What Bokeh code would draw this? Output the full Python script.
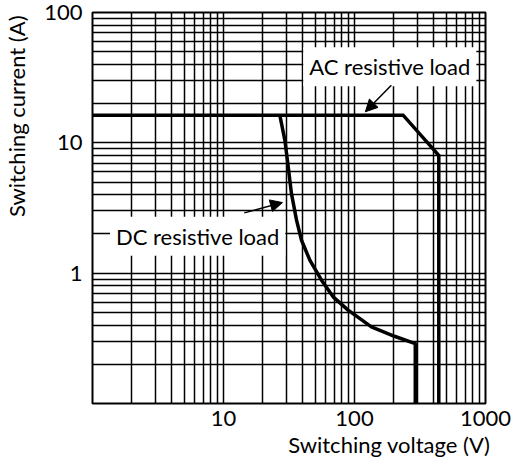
from bokeh.plotting import figure
from bokeh.models import (Range1d, FixedTicker, Label, Arrow, NormalHead, Title,
                          NumeralTickFormatter, LogAxis)
from bokeh.embed import file_html
from bokeh.resources import INLINE

# ---- data ----
ac_voltage = [1, 235, 440, 440]
ac_current = [16.3, 16.3, 8.0, 0.1]

dc_voltage = [26.9, 29.4, 31.2, 33.0, 36.1, 39.4, 45.6, 56, 68.7, 89.4, 134.6, 202, 291, 291]
dc_current = [16.3, 10.5, 6.54, 4.09, 2.55, 1.79, 1.26, 0.883, 0.658, 0.52, 0.387, 0.328, 0.288, 0.1]

x_tick_values = [10, 100, 1000]
y_tick_values = [1, 10, 100]
x_decades = [1, 10, 100]
y_decades = [0.1, 1, 10]

ac_label_text = "AC resistive load"
dc_label_text = "DC resistive load"
x_title = "Switching voltage (V)"
y_title = "Switching current (A)"

FONT = "Lato"
FSIZE = "22px"

p = figure(width=519, height=466, x_axis_type="log", y_axis_type="log",
           x_range=Range1d(1, 1000), y_range=Range1d(0.1, 100),
           output_backend="svg", toolbar_location=None,
           min_border_left=91, min_border_right=34, min_border_top=12, min_border_bottom=63)

p.background_fill_color = "white"
p.border_fill_color = "white"
p.outline_line_color = "black"
p.outline_line_width = 2

# grid lines at every 1..9 of each decade
x_grid = [d * k for d in x_decades for k in range(1, 10)] + [1000]
y_grid = [d * k for d in y_decades for k in range(1, 10)] + [100]
p.xgrid.ticker = FixedTicker(ticks=x_grid)
p.ygrid.ticker = FixedTicker(ticks=y_grid)
for g in (p.xgrid, p.ygrid):
    g.grid_line_color = "black"
    g.grid_line_width = 1.5
    g.grid_line_alpha = 1.0

for ax, ticks in ((p.xaxis, x_tick_values), (p.yaxis, y_tick_values)):
    ax.ticker = FixedTicker(ticks=ticks)
    ax.formatter = NumeralTickFormatter(format="0")
    ax.major_tick_line_color = None
    ax.minor_tick_line_color = None
    ax.major_tick_out = 0
    ax.major_tick_in = 0
    ax.minor_tick_out = 0
    ax.minor_tick_in = 0
    ax.axis_line_color = None
    ax.major_label_text_font = FONT
    ax.major_label_text_font_size = FSIZE
    ax.major_label_text_color = "black"

p.xaxis.major_label_standoff = 7
p.yaxis.major_label_standoff = 10
p.yaxis.major_label_orientation = "horizontal"

# curves
p.line(ac_voltage, ac_current, line_color="black", line_width=3.5, line_join="miter")
p.line(dc_voltage, dc_current, line_color="black", line_width=3.5, line_join="round")

# labels with white boxes
p.add_layout(Label(x=186, y=38.3, text=ac_label_text, text_align="center", text_baseline="middle",
                   text_font=FONT, text_font_size=FSIZE, text_color="black",
                   background_fill_color="white", background_fill_alpha=1.0, padding=6))
p.add_layout(Label(x=6.35, y=1.92, text=dc_label_text, text_align="center", text_baseline="middle",
                   text_font=FONT, text_font_size=FSIZE, text_color="black",
                   background_fill_color="white", background_fill_alpha=1.0, padding=6))

# arrows
p.add_layout(Arrow(end=NormalHead(size=12, fill_color="black", line_color="black"),
                   x_start=191, y_start=27.7, x_end=121, y_end=17.3,
                   line_color="black", line_width=1.5))
p.add_layout(Arrow(end=NormalHead(size=12, fill_color="black", line_color="black"),
                   x_start=14.4, y_start=2.9, x_end=28.2, y_end=3.48,
                   line_color="black", line_width=1.5))

# x axis title, right-aligned under the frame
p.add_layout(Title(text=x_title, align="right", text_font=FONT, text_font_size=FSIZE,
                   text_font_style="normal", text_color="black", standoff=0, offset=-5), "below")

# invisible spacer axis so that the y title sits further left
spacer = LogAxis(ticker=FixedTicker(ticks=[1]), axis_line_color=None,
                 major_tick_line_color=None, minor_tick_line_color=None,
                 major_tick_out=12, major_tick_in=0, minor_tick_out=0, minor_tick_in=0,
                 major_label_standoff=0, axis_label_standoff=0,
                 major_label_overrides={1: ""}, major_label_text_font_size="1px",
                 major_label_text_color=None)
p.add_layout(spacer, "left")

# y axis title near the top of the axis
p.add_layout(Title(text=y_title, align="right", text_font=FONT, text_font_size=FSIZE,
                   text_font_style="normal", text_color="black", standoff=0, offset=3), "left")

open("out.html", "w").write(file_html(p, INLINE))
